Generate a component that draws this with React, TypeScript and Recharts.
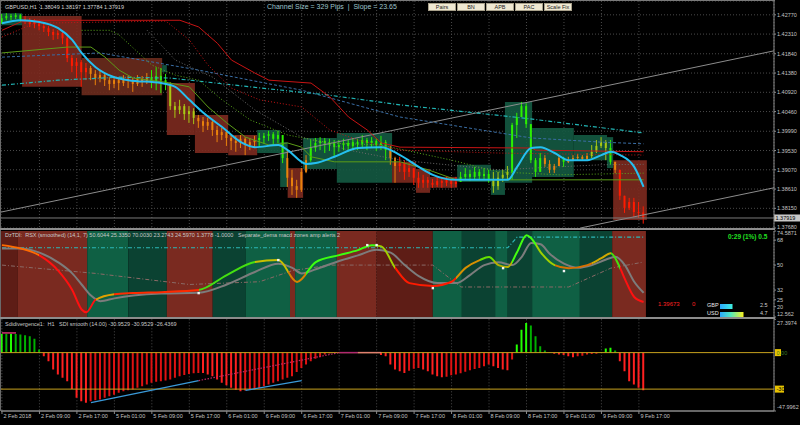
import React from 'react';
import {
  ComposedChart, BarChart, Bar, Line, XAxis, YAxis, CartesianGrid,
  ReferenceArea, ReferenceLine, Scatter, Cell,
} from 'recharts';

const FONT = '"Liberation Sans", Arial, sans-serif';
const AXIS_W = 26;

// ---------- time axis ----------
const tickIdx = [0, 8, 16, 24, 32, 40, 48, 56, 64, 72, 80, 88, 96, 104, 112, 120, 128, 136];
const tickLabels = ['2 Feb 2018', '2 Feb 09:00', '2 Feb 17:00', '5 Feb 01:00', '5 Feb 09:00', '5 Feb 17:00',
  '6 Feb 01:00', '6 Feb 09:00', '6 Feb 17:00', '7 Feb 01:00', '7 Feb 09:00', '7 Feb 17:00',
  '8 Feb 01:00', '8 Feb 09:00', '8 Feb 17:00', '9 Feb 01:00', '9 Feb 09:00', '9 Feb 17:00'];
const X_DOMAIN: [number, number] = [-0.21, 164.85];

// ---------- GBPUSD H1 candles ----------
const firstOpen = 1.4260;
const closes = [1.4269,1.4274,1.4272,1.4276,1.4267,1.4262,1.4255,1.4260,1.4250,1.4245,
 1.4236,1.4229,1.4233,1.4221,1.4174,1.4155,1.4164,1.4140,1.4150,1.4136,
 1.4126,1.4133,1.4121,1.4112,1.4121,1.4114,1.4124,1.4119,1.4112,1.4124,
 1.4119,1.4128,1.4119,1.4131,1.4121,1.4112,1.4059,1.4050,1.4059,1.4040,
 1.4047,1.4031,1.4023,1.4012,1.4021,1.4002,1.3990,1.3997,1.3983,1.3976,
 1.3971,1.3981,1.3966,1.3973,1.3978,1.3983,1.3988,1.3992,1.3981,1.3990,
 1.3935,1.3888,1.3868,1.3859,1.3902,1.3930,1.3959,1.3971,1.3976,1.3966,
 1.3971,1.3961,1.3966,1.3971,1.3964,1.3973,1.3969,1.3978,1.3971,1.3976,
 1.3966,1.3973,1.3954,1.3935,1.3916,1.3923,1.3902,1.3911,1.3888,1.3876,
 1.3883,1.3876,1.3871,1.3880,1.3876,1.3883,1.3873,1.3878,1.3890,1.3897,
 1.3890,1.3902,1.3892,1.3897,1.3885,1.3868,1.3888,1.3895,1.3902,1.4014,
 1.4033,1.4059,1.4016,1.3930,1.3902,1.3935,1.3921,1.3907,1.3916,1.3935,
 1.3926,1.3930,1.3935,1.3938,1.3933,1.3940,1.3950,1.3964,1.3973,1.3959,
 1.3926,1.3907,1.3845,1.3816,1.3830,1.3806,1.38049,1.37919];
const highs = [1.4279,1.4281,1.4279,1.4281,1.4279,1.4274,1.4269,1.4267,1.4264,1.4257,
 1.4250,1.4243,1.4240,1.4238,1.4226,1.4181,1.4174,1.4169,1.4162,1.4155,
 1.4145,1.4143,1.4138,1.4128,1.4131,1.4128,1.4133,1.4131,1.4126,1.4133,
 1.4131,1.4138,1.4145,1.4152,1.4150,1.4136,1.4116,1.4069,1.4074,1.4064,
 1.4059,1.4054,1.4038,1.4033,1.4031,1.4026,1.4012,1.4007,1.4002,1.3992,
 1.3988,1.3990,1.3985,1.3983,1.3988,1.3995,1.3995,1.4000,1.3997,1.4000,
 1.3985,1.3954,1.3907,1.3883,1.3911,1.3942,1.3978,1.3983,1.3985,1.3983,
 1.3981,1.3978,1.3978,1.3981,1.3978,1.3983,1.3981,1.3990,1.3983,1.3985,
 1.3983,1.3988,1.3978,1.3964,1.3938,1.3938,1.3930,1.3923,1.3911,1.3902,
 1.3895,1.3890,1.3885,1.3890,1.3888,1.3890,1.3888,1.3890,1.3902,1.3911,
 1.3907,1.3914,1.3909,1.3911,1.3907,1.3902,1.3902,1.3907,1.3916,1.4019,
 1.4043,1.4069,1.4066,1.4007,1.3935,1.3947,1.3942,1.3930,1.3921,1.3942,
 1.3938,1.3938,1.3942,1.3945,1.3942,1.3947,1.3966,1.3978,1.3985,1.3978,
 1.3978,1.3926,1.3907,1.3842,1.3840,1.3840,1.3830,1.38197];
const lows = [1.4255,1.4264,1.4264,1.4267,1.4260,1.4255,1.4248,1.4245,1.4240,1.4236,
 1.4226,1.4217,1.4219,1.4207,1.4164,1.4140,1.4126,1.4105,1.4121,1.4121,
 1.4109,1.4116,1.4107,1.4097,1.4102,1.4097,1.4107,1.4102,1.4093,1.4107,
 1.4105,1.4112,1.4102,1.4097,1.4090,1.4097,1.4050,1.4031,1.4040,1.4026,
 1.4019,1.4016,1.4007,1.3997,1.4002,1.3988,1.3973,1.3978,1.3964,1.3954,
 1.3950,1.3959,1.3942,1.3954,1.3961,1.3964,1.3969,1.3976,1.3964,1.3971,
 1.3923,1.3866,1.3847,1.3840,1.3854,1.3899,1.3926,1.3950,1.3954,1.3947,
 1.3952,1.3940,1.3950,1.3954,1.3950,1.3954,1.3954,1.3959,1.3954,1.3959,
 1.3952,1.3954,1.3930,1.3919,1.3876,1.3902,1.3883,1.3890,1.3871,1.3864,
 1.3864,1.3864,1.3864,1.3866,1.3864,1.3868,1.3864,1.3866,1.3878,1.3883,
 1.3880,1.3885,1.3883,1.3885,1.3876,1.3852,1.3859,1.3878,1.3883,1.3883,
 1.3983,1.4033,1.4007,1.3923,1.3890,1.3902,1.3914,1.3899,1.3899,1.3916,
 1.3914,1.3923,1.3930,1.3930,1.3928,1.3930,1.3935,1.3947,1.3959,1.3930,
 1.3919,1.3899,1.3835,1.3804,1.3811,1.3794,1.3792,1.37784];
const candleCodes = ['ggggg', 'rrrrrrrrrrrrrr', 'ooooooooooooo', 'gggg', 'yyyyyy', 'ooooooooooooo', 'gggggg',
  'ooooo', 'ggggggggggggggggg', 'oo', 'rrrrrrrrrrrrr', 'ggggggg', 'yyyy', 'ggggggg', 'oooo', 'g', 'ooooo',
  'yyyy', 'g', 'o', 'rrrrrr'].join('');
const candleColors: Record<string, string> = { g: '#2cf000', r: '#ff1a00', o: '#e8820c', y: '#a8c814' };

const priceTicks = [1.3768, 1.3815, 1.3861, 1.3907, 1.3953, 1.3999, 1.4046, 1.4092, 1.4138, 1.4184, 1.4231, 1.4277];
const PRICE_DOMAIN: [number, number] = [1.3768, 1.4310];

// ---------- zone boxes ----------
const boxFrom = [-0.1, 4.3, 17, 34.2, 35.2, 41.2, 48.3, 54.5, 59.4, 61, 64.3, 71.5, 83.3, 88.4, 91.4, 97.2, 104.4, 107.4, 113.2, 122.1, 129.2, 130.5];
const boxTo = [4.3, 17, 34.2, 35.2, 41.2, 48.3, 54.5, 59.4, 61, 64.3, 71.5, 83.3, 88.4, 91.4, 97.2, 104.4, 107.4, 113.2, 122.1, 129.2, 130.5, 137.7];
const boxTop = [1.4281, 1.4274, 1.4174, 1.4157, 1.4114, 1.4038, 1.3990, 1.4002, 1.3973, 1.3911, 1.3983, 1.3995, 1.3926, 1.3909, 1.3890, 1.3919, 1.3907, 1.4069, 1.4007, 1.3990, 1.3985, 1.3930];
const boxBottom = [1.4252, 1.4105, 1.4085, 1.4140, 1.3990, 1.3947, 1.3942, 1.3947, 1.3866, 1.3840, 1.3909, 1.3876, 1.3876, 1.3852, 1.3864, 1.3878, 1.3847, 1.3876, 1.3890, 1.3930, 1.3911, 1.3787];
const boxKind = ['g', 'r', 'b', 'g', 'r', 'r', 'r', 'g', 'g', 'r', 'g', 'g', 'r', 'r', 'r', 'g', 'g', 'g', 'g', 'g', 'g', 'r'];
const boxColors: Record<string, string> = { g: '#145a42', r: '#7d2a1f', b: '#6c2b1d' };

// ---------- main indicator lines [bar, price] ----------
const cyanMA = [[0,1.4257],[4,1.4264],[8,1.4260],[12,1.4245],[15,1.4217],[17,1.4186],[20,1.4152],[24,1.4128],[27,1.4121],[34,1.4114],[37,1.4105],[40,1.4074],[43,1.4043],[47,1.4009],[51,1.3973],[54,1.3961],[59,1.3966],[61,1.3954],[65,1.3921],[67,1.3923],[71,1.3938],[76,1.3959],[81,1.3961],[85,1.3942],[89,1.3914],[92,1.3895],[97,1.3883],[108,1.3883],[110,1.3914],[113,1.3959],[115,1.3961],[118,1.3947],[121,1.3930],[125,1.3930],[128,1.3942],[130,1.3950],[132,1.3942],[135,1.3914],[137,1.3866]];
const redSolid = [[0,1.4240],[4,1.4260],[7,1.4264],[38,1.4264],[42,1.4248],[46,1.4209],[49,1.4169],[54,1.4138],[57,1.4121],[66,1.4114],[70,1.4081],[74,1.4033],[78,1.4002],[81,1.3971],[85,1.3961],[113,1.3959],[114,1.3954],[137,1.3950]];
const redDot = [[0,1.4224],[7,1.4257],[35,1.4262],[40,1.4217],[44,1.4157],[49,1.4102],[55,1.4074],[64,1.4057],[70,1.4002],[76,1.3978],[85,1.3954],[106,1.3947],[137,1.3942]];
const greenLine = [[0,1.4186],[14,1.4200],[19,1.4200],[22,1.4176],[25,1.4145],[28,1.4126],[35,1.4116],[40,1.4105],[44,1.4057],[48,1.4019],[52,1.3985],[57,1.3966],[61,1.3971],[64,1.3961],[66,1.3938],[71,1.3926],[85,1.3926],[91,1.3907],[97,1.3883],[137,1.3883]];
const greenDot = [[17,1.4240],[23,1.4240],[25,1.4229],[32,1.4157],[37,1.4133],[42,1.4121],[47,1.4074],[53,1.4026],[61,1.3990],[70,1.3971],[81,1.3966],[96,1.3930],[106,1.3902],[119,1.3895],[137,1.3899]];
const blueDash = [[0,1.4176],[21,1.4186],[42,1.4145],[64,1.4097],[85,1.4033],[113,1.3983],[128,1.3973],[137,1.3969]];
const cyanDash = [[0,1.4109],[12,1.4121],[25,1.4128],[36,1.4126],[53,1.4105],[70,1.4085],[85,1.4062],[111,1.4031],[137,1.3995]];
const greyDot = [[31,1.4240],[37,1.4169],[45,1.4128],[54,1.4050],[64,1.3985],[74,1.3954],[85,1.3930],[106,1.3907],[128,1.3919],[137,1.3920]];
const channelUpper = [[-0.21, 1.3806], [164.85, 1.4191]];
const channelLower = [[123.5, 1.3768], [164.85, 1.3864]];

// ---------- RSX panel ----------
const rsxTicks = [12.562, 20, 25, 32, 50, 68, 74.5871];
const RSX_DOMAIN: [number, number] = [12.562, 74.5871];
const rsxPts = [[0,64.4],[4,62],[8,57],[12,46],[15,32],[17,18],[18,16],[20,25],[24,29],[28,29.8],[34,30.5],[42,32],[48,42.8],[54,52.2],[59,53.6],[63,37.8],[67,52.2],[72,57.2],[76,60.8],[79,64.4],[81,63.5],[84,47.8],[87,37],[92,35],[96,38],[99,48],[102,53.6],[104,55.8],[106,50],[108,48.6],[110,59.4],[112,71.6],[113,69.4],[115,59.4],[118,50],[121,47.8],[125,50],[128,55],[130,58.6],[132,47.8],[133,40],[135,27],[137,23.4]];
const sigPts = [[0,62],[4,62],[8,59],[12,52],[15,44],[17,36],[19,28],[21,24],[24,26],[28,28],[34,29.5],[42,30],[48,36],[54,45],[59,51],[62,48],[64,44],[67,47],[72,53],[76,57],[80,61],[83,59],[86,50],[89,42],[93,37],[97,37],[100,43],[103,50],[106,52],[109,50],[111,56],[113,66],[115,65],[117,58],[120,51],[123,48],[126,50],[129,54],[131,56],[133,50],[135,38],[137,30]];
const upLvlPts = [[0,62.5],[108,62.5],[110,70.2],[137,70.2]];
const midLvlPts = [[0,50],[20,44],[40,36],[55,38],[62,46],[70,50],[92,50],[98,34.2],[121,34.2],[130,47.8],[137,52.2]];
const markPts = [[42,29.8],[59,53.6],[78,64.4],[80,64.4],[92,33.4],[107,47.8],[120,45.7]];
const rsxColorSegs: [number, number, string][] = [[0,8,'#ff6a00'],[8,20,'#ff1010'],[20,24,'#e0a000'],[24,42,'#ff2a00'],[42,54,'#44e010'],[54,61,'#c8c000'],[61,65,'#d88000'],[65,80,'#3cff10'],[80,84,'#a0d000'],[84,97,'#ff1a00'],[97,102,'#d89000'],[102,105,'#66e000'],[105,109,'#b8b000'],[109,114,'#44ff10'],[114,118,'#a0d000'],[118,126,'#d87000'],[126,130,'#d0a800'],[130,132,'#44e010'],[132,137,'#ff1010']];
const bandFrom = [-0.21, 3.4, 18.2, 27, 35.2, 45, 52, 61.5, 62.6, 71.5, 80, 92, 98.2, 105.3, 108, 113.2, 123.4, 130.3];
const bandTo = [3.4, 18.2, 27, 35.2, 45, 52, 61.5, 62.6, 71.5, 80, 92, 98.2, 105.3, 108, 113.2, 123.4, 130.3, 137.5];
const bandKind = ['R','r','g','G','r','G','g','r','g','r','R','g','G','g','G','g','G','r'];
const bandColors: Record<string, string> = { R: '#5e1d16', r: '#7a2a20', g: '#0f6044', G: '#0b4232' };

// ---------- SDI panel ----------
const sdiTicks = [-47.9962, 27.3974];
const SDI_DOMAIN: [number, number] = [-47.9962, 27.3974];
const sdiValues = [15.6,15.5,15.6,15.4,14.8,14.2,13.4,11.5,2.5,-3.0,
 -7.1,-13.9,-18.0,-20.7,-23.5,-30.0,-37.2,-39.9,-41.3,-39.9,
 -39.2,-38.5,-37.2,-35.8,-34.6,-33.0,-31.8,-30.9,-30.3,-28.9,
 -27.6,-26.2,-24.8,-24.0,-23.5,-23.0,-22.1,-20.7,-19.4,-18.3,
 -17.5,-17.0,-16.7,-16.7,-18.0,-19.4,-22.0,-24.8,-26.9,-28.9,
 -30.5,-31.7,-31.2,-30.5,-30.3,-29.0,-27.6,-26.2,-24.8,-23.5,
 -22.1,-20.7,-19.4,-16.0,-12.6,-9.8,-7.1,-5.0,-3.8,-1.6,
 -0.8,-0.24,-0.1,-0.1,-0.1,-0.1,-0.1,-0.1,-0.1,-0.1,
 -0.1,-2.0,-3.0,-9.8,-13.9,-15.3,-16.7,-15.0,-13.2,-12.6,
 -13.9,-15.3,-18.0,-19.4,-20.2,-19.8,-18.6,-18.0,-17.0,-15.8,
 -14.5,-13.5,-12.6,-11.2,-9.8,-11.2,-12.6,-13.9,-14.5,-5.7,
 6.6,18.9,24.3,22.4,13.4,5.2,1.7,0.3,-1.0,-1.5,
 -2.0,-3.0,-3.8,-3.0,-2.5,-1.6,-1.2,-1.0,0.5,3.3,
 4.0,1.7,-7.1,-15.3,-23.5,-26.2,-28.9,-30.95];
const sdiLevels = [0, -30];
const divBlue = [[[19,-41.2],[42,-23]], [[52,-31.1],[64,-23]]];
const divMagenta = [[[42,-23],[72,0]]];
const zeroMarks = [[[72,0],[76,0],'#b02870'], [[76,0],[81,0],'#e08070'], [[0,16.2],[3,16.2],'#d03070']];

const strengthNames = ['GBP', 'USD'];
const strengthValues = [2.5, 4.7];

// ---------- build rows ----------
const addSeries = (rows: any[], pts: number[][], key: string) => {
  pts.forEach(([i, v]) => { if (rows[i]) rows[i][key] = v; });
};

const mainRows: any[] = closes.map((c, i) => {
  const open = i === 0 ? firstOpen : closes[i - 1];
  const high = Math.max(highs[i], open, c);
  const low = Math.min(lows[i], open, c);
  return { i, open, close: c, high, low, color: candleColors[candleCodes[i]] };
});
addSeries(mainRows, cyanMA, 'cyanMA');
addSeries(mainRows, redSolid, 'redSolid');
addSeries(mainRows, redDot, 'redDot');
addSeries(mainRows, greenLine, 'greenLine');
addSeries(mainRows, greenDot, 'greenDot');
addSeries(mainRows, blueDash, 'blueDash');
addSeries(mainRows, cyanDash, 'cyanDash');
addSeries(mainRows, greyDot, 'greyDot');

const rsxRows: any[] = closes.map((_, i) => ({ i }));
addSeries(rsxRows, rsxPts, 'rsx');
addSeries(rsxRows, sigPts, 'sig');
addSeries(rsxRows, upLvlPts, 'up');
addSeries(rsxRows, midLvlPts, 'mid');
const markRows = markPts.map(([i, v]) => ({ i, v }));
const rsxLast = rsxPts[rsxPts.length - 1][0];

const sdiRows = sdiValues.map((v, i) => ({ i, sdi: v }));
const sdiColor = (v: number, prev: number) =>
  v >= 0 ? (v >= prev ? '#22ff00' : '#00b000') : (v <= prev ? '#ff2020' : '#e01212');

// ---------- small components ----------
const Candle = (p: any) => {
  const { x, width, payload } = p;
  let { y, height } = p;
  if (height < 0) { y += height; height = -height; }
  const { open, close, high, low, color } = payload;
  const span = high - low || 1e-9;
  const k = height / span;
  const top = y + (high - Math.max(open, close)) * k;
  const bh = Math.max(1, Math.abs(open - close) * k);
  const cx = x + width / 2;
  return (
    <g>
      <line x1={cx} x2={cx} y1={y} y2={y + height} stroke={color} strokeWidth={1} />
      <rect x={x} y={top} width={width} height={bh} fill={color} />
    </g>
  );
};

const makeYTick = (fmt: (v: number) => string, nudge: Record<string, number>) => (p: any) => {
  const label = fmt(p.payload.value);
  const dy = nudge[label] ?? 0;
  return (
    <text x={p.x} y={p.y + dy} dy={2} fontSize={5.5} fill="#c4c4c4" fontFamily={FONT} textAnchor="start">{label}</text>
  );
};
const PriceTick = makeYTick((v) => v.toFixed(5), { '1.37680': -1.5 });
const RsxTick = makeYTick((v) => String(v), { '74.5871': 1.5, '12.562': -3.5 });
const SdiTick = makeYTick((v) => String(v), { '27.3974': 3.5, '-47.9962': -4 });

const TimeTick = (p: any) => {
  const k = tickIdx.indexOf(p.payload.value);
  return (
    <text x={p.x + 1.5} y={p.y} dy={2} fontSize={5.5} fill="#c4c4c4" fontFamily={FONT} textAnchor="start">{tickLabels[k]}</text>
  );
};

const Tag = (p: any) => {
  const vb = p.viewBox || { x: 0, y: 0, width: 0 };
  const x = vb.x + vb.width;
  return (
    <g>
      <rect x={x + p.dx} y={vb.y - 3.5} width={p.w} height={7} fill={p.bg} />
      <text x={x + p.dx + 1.5} y={vb.y + 2} fontSize={5.5} fill={p.fg} fontFamily={FONT}>{p.text}</text>
    </g>
  );
};

const WhiteSq = (p: any) => <rect x={p.cx - 1.2} y={p.cy - 1.2} width={2.4} height={2.4} fill="#f2f2f2" />;

const grid = (horizontal: boolean) => (
  <CartesianGrid stroke="#4a4a4a" strokeDasharray="1 2" horizontal={horizontal} vertical />
);

const lineProps = { dot: false, connectNulls: true, isAnimationActive: false, activeDot: false } as any;
const yAxisCommon = {
  orientation: 'right' as const, width: AXIS_W, allowDataOverflow: true, tickSize: 2, tickMargin: 1, interval: 0 as const,
  tickLine: { stroke: '#8a8a8a' }, axisLine: { stroke: '#8a8a8a' },
};

const MainChart = () => (
  <ComposedChart width={800} height={229} data={mainRows} margin={{ top: 1, right: 0, bottom: 1, left: 1 }}>
    {grid(true)}
    <XAxis type="number" dataKey="i" domain={X_DOMAIN} ticks={tickIdx} hide allowDataOverflow />
    <YAxis {...yAxisCommon} domain={PRICE_DOMAIN} ticks={priceTicks} tick={PriceTick} />
    {boxFrom.map((f, k) => (
      <ReferenceArea key={'b' + k} x1={f} x2={boxTo[k]} y1={boxBottom[k]} y2={boxTop[k]}
        fill={boxColors[boxKind[k]]} fillOpacity={0.9} stroke="none" ifOverflow="hidden" />
    ))}
    <ReferenceLine segment={channelUpper.map(([x, y]) => ({ x, y }))} stroke="#8c8c8c" strokeWidth={1} ifOverflow="hidden" />
    <ReferenceLine segment={channelLower.map(([x, y]) => ({ x, y }))} stroke="#8c8c8c" strokeWidth={1} ifOverflow="hidden" />
    <ReferenceLine y={closes[closes.length - 1]} stroke="#7a7a7a" strokeWidth={1}
      label={<Tag text={closes[closes.length - 1].toFixed(5)} w={26} dx={0} bg="#c8c8c8" fg="#000" />} />
    <Bar dataKey={(d: any) => [d.low, d.high]} barSize={2} shape={<Candle />} isAnimationActive={false} />
    <Line dataKey="greyDot" stroke="#6a6a6a" strokeDasharray="1 2" strokeWidth={1} {...lineProps} />
    <Line dataKey="blueDash" stroke="#3a6ea5" strokeDasharray="3 2" strokeWidth={1} {...lineProps} />
    <Line dataKey="cyanDash" stroke="#22b4b4" strokeDasharray="4 2 1 2" strokeWidth={1.2} {...lineProps} />
    <Line dataKey="greenDot" stroke="#5aaa1a" strokeDasharray="1 2" strokeWidth={1} {...lineProps} />
    <Line dataKey="greenLine" stroke="#5c9c18" strokeWidth={1} {...lineProps} />
    <Line dataKey="redDot" stroke="#c81414" strokeDasharray="1 2" strokeWidth={1} {...lineProps} />
    <Line dataKey="redSolid" stroke="#c81414" strokeWidth={1} {...lineProps} />
    <Line dataKey="cyanMA" type="monotone" stroke="#25bff0" strokeWidth={2} {...lineProps} />
  </ComposedChart>
);

const RsxChart = () => (
  <ComposedChart width={800} height={89} data={rsxRows} margin={{ top: 2, right: 0, bottom: 1, left: 1 }}>
    <defs>
      <linearGradient id="rsxGrad" x1="0" y1="0" x2="1" y2="0">
        {rsxColorSegs.flatMap(([a, b, c], k) => [
          <stop key={k + 'a'} offset={a / rsxLast} stopColor={c} />,
          <stop key={k + 'b'} offset={b / rsxLast} stopColor={c} />,
        ])}
      </linearGradient>
    </defs>
    {grid(false)}
    <XAxis type="number" dataKey="i" domain={X_DOMAIN} ticks={tickIdx} hide allowDataOverflow />
    <YAxis {...yAxisCommon} domain={RSX_DOMAIN} ticks={rsxTicks} tick={RsxTick} />
    {bandFrom.map((f, k) => (
      <ReferenceArea key={'r' + k} x1={f} x2={bandTo[k]} y1={RSX_DOMAIN[0]} y2={RSX_DOMAIN[1]}
        fill={bandColors[bandKind[k]]} fillOpacity={1} stroke="none" ifOverflow="hidden" />
    ))}
    <Line dataKey="mid" stroke="#8a6a66" strokeDasharray="4 2 1 2" strokeWidth={1} {...lineProps} />
    <Line dataKey="up" stroke="#2cb8b8" strokeDasharray="4 2 1 2" strokeWidth={1.2} {...lineProps} />
    <Line dataKey="sig" type="monotone" stroke="#7c7c7c" strokeWidth={2} {...lineProps} />
    <Line dataKey="rsx" type="monotone" stroke="url(#rsxGrad)" strokeWidth={2} {...lineProps} />
    <Scatter data={markRows} dataKey="v" shape={WhiteSq} isAnimationActive={false} />
  </ComposedChart>
);

const SdiChart = () => (
  <ComposedChart width={800} height={107} data={sdiRows} margin={{ top: 1.3, right: 0, bottom: 0, left: 1 }}>
    {grid(false)}
    <XAxis type="number" dataKey="i" domain={X_DOMAIN} ticks={tickIdx} height={14} allowDataOverflow interval={0}
      tick={TimeTick} tickSize={3} tickLine={{ stroke: '#8a8a8a' }} axisLine={{ stroke: '#8a8a8a', strokeWidth: 1.5 }} />
    <YAxis {...yAxisCommon} domain={SDI_DOMAIN} ticks={sdiTicks} tick={SdiTick} />
    {sdiLevels.map((lv) => (
      <ReferenceLine key={'l' + lv} y={lv} stroke="#c8a21e" strokeWidth={1}
        label={<Tag text={lv === 0 ? '0.00' : String(lv)} w={lv === 0 ? 6 : 9} dx={1} bg="#e8c400" fg={lv === 0 ? '#3a7a20' : '#000'} />} />
    ))}
    <Bar dataKey="sdi" barSize={2} isAnimationActive={false}>
      {sdiValues.map((v, i) => <Cell key={i} fill={sdiColor(v, i > 0 ? sdiValues[i - 1] : v)} />)}
    </Bar>
    {divBlue.map((seg, k) => (
      <ReferenceLine key={'db' + k} segment={seg.map(([x, y]) => ({ x, y }))} stroke="#3a9ad9" strokeWidth={1.3} />
    ))}
    {divMagenta.map((seg, k) => (
      <ReferenceLine key={'dm' + k} segment={seg.map(([x, y]) => ({ x, y }))} stroke="#c02868" strokeWidth={1.2} strokeDasharray="1.5 1.5" />
    ))}
    {zeroMarks.map(([a, b, c]: any, k) => (
      <ReferenceLine key={'zm' + k} segment={[{ x: a[0], y: a[1] }, { x: b[0], y: b[1] }]} stroke={c} strokeWidth={1.5} />
    ))}
  </ComposedChart>
);

const StrengthBars = () => (
  <BarChart layout="vertical" width={26} height={16} data={strengthNames.map((n, k) => ({ n, v: strengthValues[k] }))}
    margin={{ top: 0, right: 0, bottom: 0, left: 0 }}>
    <defs>
      <linearGradient id="gbpG" x1="0" y1="0" x2="1" y2="0">
        <stop offset="0" stopColor="#2aa8ff" /><stop offset="1" stopColor="#40f0e0" />
      </linearGradient>
      <linearGradient id="usdG" x1="0" y1="0" x2="1" y2="0">
        <stop offset="0" stopColor="#2aa8ff" /><stop offset="0.45" stopColor="#50e8c0" /><stop offset="1" stopColor="#f8f020" />
      </linearGradient>
    </defs>
    <XAxis type="number" domain={[0, 5.2]} hide />
    <YAxis type="category" dataKey="n" hide />
    <Bar dataKey="v" barSize={5} isAnimationActive={false}>
      <Cell fill="url(#gbpG)" />
      <Cell fill="url(#usdG)" />
    </Bar>
  </BarChart>
);

const T = ({ x, y, size = 5.5, color = '#c8c8c8', bold = false, children }: any) => (
  <div style={{ position: 'absolute', left: x, top: y - size * 0.6, fontSize: size, lineHeight: `${size * 1.2}px`,
    color, whiteSpace: 'pre', fontWeight: bold ? 700 : 400, fontFamily: FONT }}>{children}</div>
);

const buttons = ['Pairs', 'BN', 'APB', 'PAC', 'Scale Fix'];

export default function App() {
  const n = closes.length - 1;
  const header = `GBPUSD,H1  ${closes[n - 1].toFixed(5)} ${highs[n].toFixed(5)} ${lows[n].toFixed(5)} ${closes[n].toFixed(5)}`;
  return (
    <div style={{ position: 'absolute', left: 0, top: 0, width: 800, height: 425, background: '#000', overflow: 'hidden', fontFamily: FONT }}>
      <div style={{ position: 'absolute', left: 0, top: 0 }}><MainChart /></div>
      <div style={{ position: 'absolute', left: 0, top: 229 }}><RsxChart /></div>
      <div style={{ position: 'absolute', left: 0, top: 318 }}><SdiChart /></div>
      <div style={{ position: 'absolute', left: 720, top: 301.5 }}><StrengthBars /></div>

      <div style={{ position: 'absolute', left: 0, top: 0, width: 775, height: 1, background: '#7a7a7a' }} />
      <div style={{ position: 'absolute', left: 0, top: 0, width: 1, height: 411, background: '#6a6a6a' }} />
      <div style={{ position: 'absolute', left: 0, top: 228, width: 775, height: 1.5, background: '#8c8c8c' }} />
      <div style={{ position: 'absolute', left: 0, top: 317.3, width: 775, height: 1.5, background: '#8c8c8c' }} />

      <T x={5} y={7} color="#d4d4d4">{header}</T>
      <T x={267} y={7} size={7} color="#9ec4cc">{'Channel Size = 329 Pips  |  Slope = 23.65'}</T>
      {buttons.map((b, k) => (
        <div key={b} style={{ position: 'absolute', left: 428 + k * 29, top: 2.5, width: 28, height: 8.5, boxSizing: 'border-box',
          background: '#efe8d2', border: '1px solid #a8a08a', fontSize: 5.5, lineHeight: '6.5px', textAlign: 'center', color: '#222' }}>{b}</div>
      ))}

      <T x={5} y={235}>{'DzTDI:  RSX (smoothed) (14,1, 7) 50.6044 25.3350 70.0030 23.2743 24.5970 1.3778 -1.0000   Separate_dema macd zones amp alerts 2'}</T>
      <T x={728} y={237} size={6.5} color="#22e022" bold>{'0:29 (1%) 0.5'}</T>
      <T x={658} y={305} size={6} color="#ff2020">{'1.39673'}</T>
      <T x={692} y={305} size={6} color="#ff2020">{'0'}</T>
      {strengthNames.map((s, k) => (
        <React.Fragment key={s}>
          <T x={707} y={305.5 + k * 8} color="#e8e8e8">{s}</T>
          <T x={760} y={305.5 + k * 8} color="#d0d0d0">{String(strengthValues[k])}</T>
        </React.Fragment>
      ))}

      <T x={5} y={324}>{'Sdidivergence1:  H1   SDI smooth (14.00) -30.9529 -30.9529 -26.4369'}</T>
    </div>
  );
}
